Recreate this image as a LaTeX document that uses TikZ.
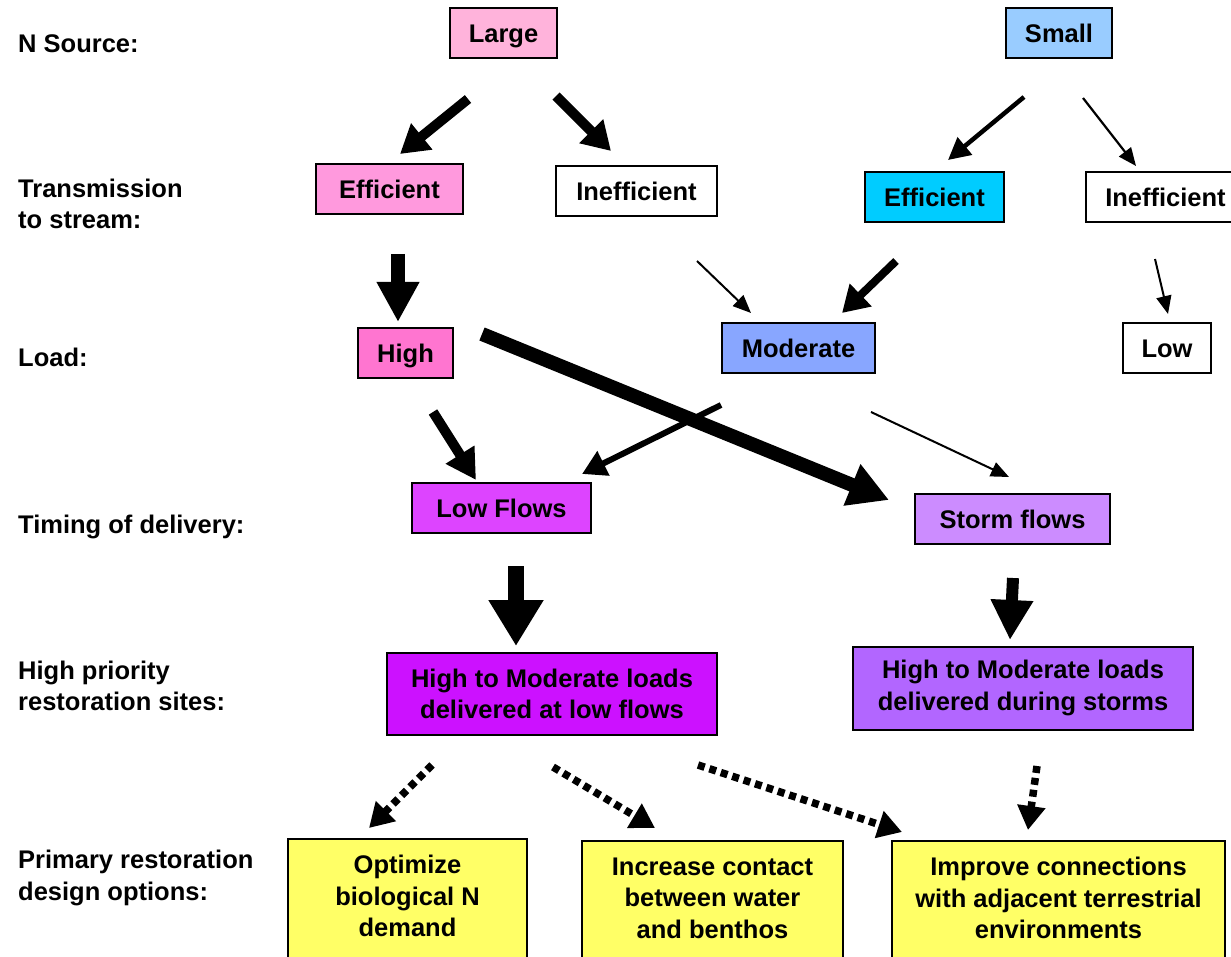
\documentclass[tikz,border=0pt]{standalone}
\usepackage{fontspec}
\setmainfont{Liberation Sans}
\usetikzlibrary{arrows.meta}

\definecolor{cLarge}{HTML}{FFB3DB}
\definecolor{cEffL}{HTML}{FF99DD}
\definecolor{cSmall}{HTML}{99CCFF}
\definecolor{cEffR}{HTML}{00CCFF}
\definecolor{cHigh}{HTML}{FF75D0}
\definecolor{cMod}{HTML}{88A6FF}
\definecolor{cLowFl}{HTML}{DD44FF}
\definecolor{cStorm}{HTML}{CC8CFF}
\definecolor{cSiteL}{HTML}{CC11FF}
\definecolor{cSiteS}{HTML}{B266FF}
\definecolor{cOpt}{HTML}{FFFF66}

\tikzset{
  txt/.style={font=\fontsize{25.5}{31.5}\selectfont\bfseries, inner sep=0pt},
  rowlabel/.style={txt, anchor=west, align=left},
  box/.style={txt, draw=black, line width=2pt, minimum height=50pt, align=center},
  onebox/.style={box, text height=18.3pt, text depth=0pt},
  optbox/.style={draw=black, line width=2pt, fill=cOpt, minimum height=160pt, anchor=north, inner sep=0pt},
  optlabel/.style={txt, align=center},
  arr/.style n args={3}{line width=#1, line cap=butt, -{Triangle[length=#2, width=#3]}},
  dasharr/.style={line width=7.5pt, line cap=butt, dash pattern=on 7pt off 5pt,
    -{Triangle[length=24pt, width=27pt]}}
}

\begin{document}
\begin{tikzpicture}[x=1pt, y=-1pt]
\useasboundingbox (0,0) rectangle (1231,957);

% row labels
\node[rowlabel] (lblSource) at (18,44) {N Source:};
\node[rowlabel] (lblTrans) at (18,204) {Transmission\\to stream:};
\node[rowlabel] (lblLoad) at (18,357) {Load:};
\node[rowlabel] (lblTiming) at (18,527) {Timing of delivery:};
\node[rowlabel] (lblSites) at (18,686) {High priority\\restoration sites:};
\node[rowlabel] (lblDesign) at (18,878) {Primary restoration\\design options:};

% source
\node[onebox, fill=cLarge, minimum width=107pt] (large) at (503.5,33) {Large};
\node[onebox, fill=cSmall, minimum width=106pt] (small) at (1059,33) {Small};

% transmission
\node[onebox, fill=cEffL, minimum width=147pt] (effL) at (389.5,189) {Efficient};
\node[onebox, fill=white, minimum width=161pt] (ineffL) at (636.5,191) {Inefficient};
\node[onebox, fill=cEffR, minimum width=139pt] (effR) at (934.5,197) {Efficient};
\node[onebox, fill=white, minimum width=159pt] (ineffR) at (1165.5,197) {Inefficient};

% load
\node[onebox, fill=cHigh, minimum width=95pt] (high) at (405.5,353) {High};
\node[onebox, fill=cMod, minimum width=153pt] (moderate) at (798.5,348) {Moderate};
\node[onebox, fill=white, minimum width=88pt] (low) at (1167,348) {Low};

% timing
\node[onebox, fill=cLowFl, minimum width=179pt] (lowflows) at (501.5,508) {Low Flows};
\node[onebox, fill=cStorm, minimum width=195pt] (storm) at (1012.5,519) {Storm flows};

% priority sites
\node[box, fill=cSiteL, minimum width=330pt, minimum height=82pt] (siteL) at (552,694)
  {High to Moderate loads\\delivered at low flows};
\node[box, fill=cSiteS, minimum width=340pt, minimum height=83pt] (siteS) at (1023,688)
  {High to Moderate loads\\delivered during storms};

% design options
\node[optbox, minimum width=239pt] (opt) at (407.5,838) {};
\node[optlabel] (optT) at (407.5,896) {Optimize\\biological N\\demand};
\node[optbox, minimum width=261pt] (inc) at (712.5,840) {};
\node[optlabel] (incT) at (712.5,898) {Increase contact\\between water\\and benthos};
\node[optbox, minimum width=333pt] (imp) at (1058.5,840) {};
\node[optlabel] (impT) at (1058.5,898) {Improve connections\\with adjacent terrestrial\\environments};

% connector end points
\coordinate (a1s) at (468,99);   \coordinate (a1e) at (400,154);
\coordinate (a2s) at (556,96);   \coordinate (a2e) at (611,151);
\coordinate (a3s) at (1024,97);  \coordinate (a3e) at (948,160);
\coordinate (a4s) at (1083,98);  \coordinate (a4e) at (1136,166);
\coordinate (a5s) at (398,254);  \coordinate (a5e) at (398,322);
\coordinate (a6s) at (697,261);  \coordinate (a6e) at (751,313);
\coordinate (a7s) at (896,261);  \coordinate (a7e) at (842,313);
\coordinate (a8s) at (1155,259); \coordinate (a8e) at (1168,314);
\coordinate (a9s) at (482,334);  \coordinate (a9e) at (889,500);
\coordinate (a10s) at (433,412); \coordinate (a10e) at (476,480);
\coordinate (a11s) at (721,405); \coordinate (a11e) at (582,474);
\coordinate (a12s) at (871,412); \coordinate (a12e) at (1009,477);
\coordinate (a13s) at (516,566); \coordinate (a13e) at (516,646);
\coordinate (a14s) at (1013,578);\coordinate (a14e) at (1010,640);
\coordinate (d1s) at (432,765);  \coordinate (d1e) at (369,828);
\coordinate (d2s) at (553,767);  \coordinate (d2e) at (655,828);
\coordinate (d3s) at (698,765);  \coordinate (d3e) at (902,832);
\coordinate (d4s) at (1037,766); \coordinate (d4e) at (1028,830);

% source -> transmission
\draw[arr={10pt}{28pt}{32pt}] (a1s) -- (a1e);
\draw[arr={10pt}{28pt}{32pt}] (a2s) -- (a2e);
\draw[arr={4.5pt}{22pt}{22pt}] (a3s) -- (a3e);
\draw[arr={2.2pt}{18pt}{15pt}] (a4s) -- (a4e);

% transmission -> load
\draw[arr={14pt}{40pt}{40pt}] (a5s) -- (a5e);
\draw[arr={2pt}{18pt}{15pt}] (a6s) -- (a6e);
\draw[arr={8pt}{26pt}{30pt}] (a7s) -- (a7e);
\draw[arr={2pt}{18pt}{15pt}] (a8s) -- (a8e);

% load -> timing
\draw[arr={14pt}{40pt}{42pt}] (a9s) -- (a9e);
\draw[arr={10pt}{30pt}{32pt}] (a10s) -- (a10e);
\draw[arr={6pt}{24pt}{26pt}] (a11s) -- (a11e);
\draw[arr={2pt}{18pt}{15pt}] (a12s) -- (a12e);

% timing -> priority sites
\draw[arr={16pt}{46pt}{52pt}] (a13s) -- (a13e);
\draw[arr={12pt}{40pt}{40pt}] (a14s) -- (a14e);

% priority sites -> design options
\draw[dasharr] (d1s) -- (d1e);
\draw[dasharr] (d2s) -- (d2e);
\draw[dasharr] (d3s) -- (d3e);
\draw[dasharr] (d4s) -- (d4e);
\end{tikzpicture}
\end{document}
